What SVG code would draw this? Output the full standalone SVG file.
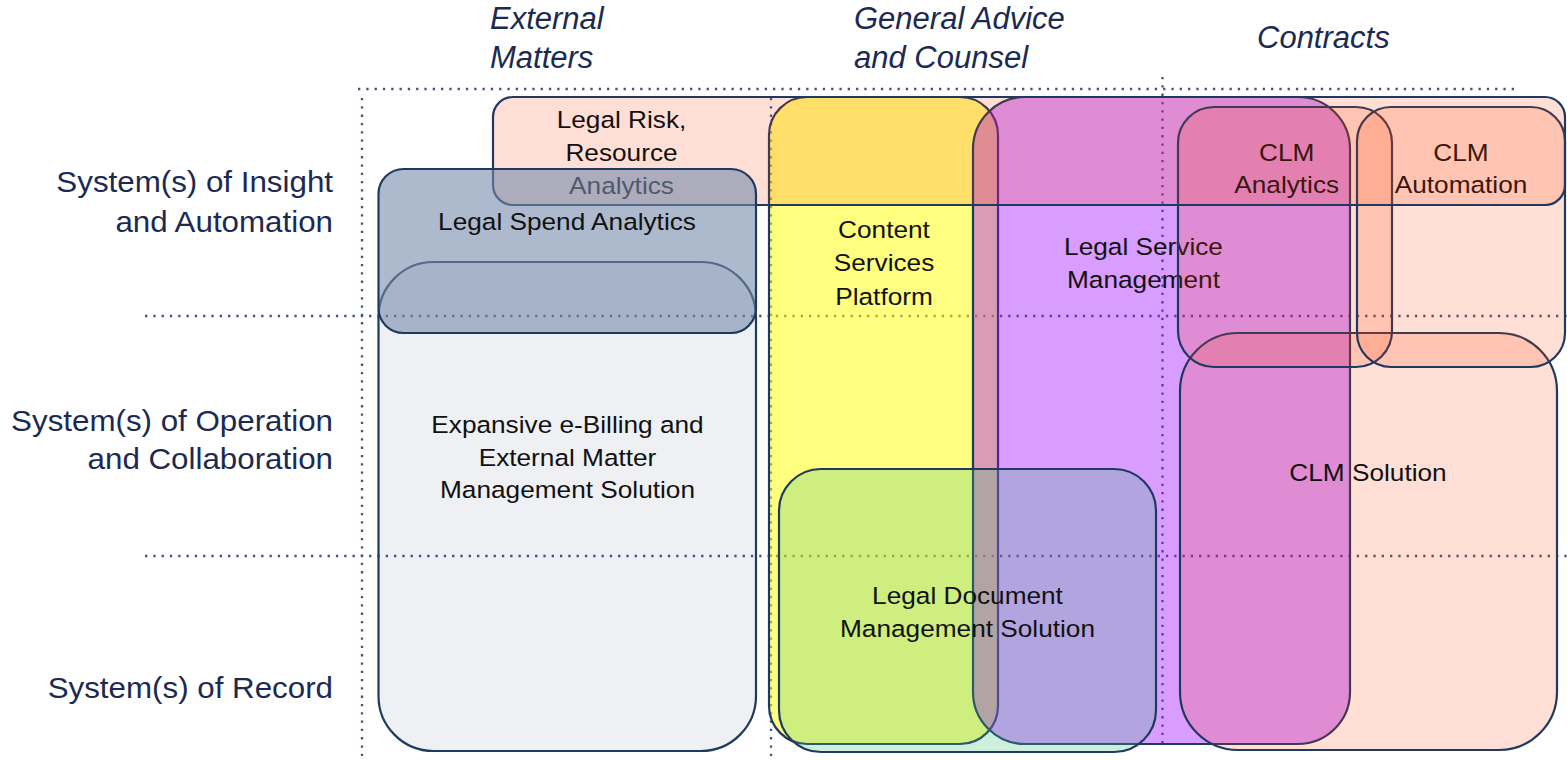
<svg xmlns="http://www.w3.org/2000/svg" width="1567" height="760" viewBox="0 0 1567 760">
<defs>
<style>
.grid{stroke:#45527c;stroke-width:2.3;stroke-dasharray:2.3 6;fill:none}
.box{stroke:#1F3A60;stroke-width:2.2}
.peach{fill:#FF3C00;fill-opacity:0.165}
.t{font-family:"Liberation Sans",Arial,sans-serif;font-size:24.5px;fill:#111;text-anchor:middle}
.row{font-family:"Liberation Sans",Arial,sans-serif;font-size:29px;fill:#1C2A52;text-anchor:end}
.col{font-family:"Liberation Sans",Arial,sans-serif;font-size:31px;font-style:italic;fill:#1C2A52}
</style>
</defs>
<rect width="1567" height="760" fill="#FFFFFF"/>
<g id="grid">
<line class="grid" x1="358" y1="89" x2="1520" y2="89"/>
<line class="grid" x1="362" y1="98" x2="362" y2="760"/>
<line class="grid" x1="771" y1="98" x2="771" y2="760"/>
<line class="grid" x1="1162.5" y1="77" x2="1162.5" y2="746"/>
<line class="grid" x1="145" y1="316" x2="1567" y2="316"/>
<line class="grid" x1="145" y1="556" x2="1567" y2="556"/>
</g>
<g id="row-labels">
<text class="row" transform="translate(333 192.3) scale(1.08 1)"><tspan x="0" y="0">System(s) of Insight</tspan><tspan x="0" y="39.4">and Automation</tspan></text>
<text class="row" transform="translate(333 431) scale(1.08 1)"><tspan x="0" y="0">System(s) of Operation</tspan><tspan x="0" y="38">and Collaboration</tspan></text>
<text class="row" transform="translate(333 697.7) scale(1.08 1)">System(s) of Record</text>
</g>
<g id="column-labels">
<text class="col"><tspan x="490" y="29.3">External</tspan><tspan x="490" y="68.3">Matters</tspan></text>
<text class="col"><tspan x="854" y="29.3">General Advice</tspan><tspan x="854" y="68.3">and Counsel</tspan></text>
<text class="col" x="1257" y="48.3">Contracts</text>
</g>
<g id="expansive-ebilling">
<rect class="box" x="378.5" y="262" width="377.5" height="489" rx="55" fill="#1F3864" fill-opacity="0.075"/>
<text class="t" transform="translate(567.5 433.3) scale(1.07 1)"><tspan x="0" y="0">Expansive e-Billing and</tspan><tspan x="0" y="32.3">External Matter</tspan><tspan x="0" y="64.7">Management Solution</tspan></text>
</g>
<g id="content-services-platform">
<rect class="box" x="769" y="97" width="229" height="647" rx="38" fill="#FFFF00" fill-opacity="0.5"/>
<text class="t" transform="translate(884 238) scale(1.07 1)"><tspan x="0" y="0">Content</tspan><tspan x="0" y="33.5">Services</tspan><tspan x="0" y="67">Platform</tspan></text>
</g>
<g id="legal-service-management">
<rect class="box" x="973" y="97" width="377" height="647" rx="52" fill="#A008FF" fill-opacity="0.4"/>
<text class="t" transform="translate(1143.5 255) scale(1.07 1)"><tspan x="0" y="0">Legal Service</tspan><tspan x="0" y="33.3">Management</tspan></text>
</g>
<g id="legal-document-management">
<rect class="box" x="779" y="469" width="377" height="283" rx="42" fill="#43BE80" fill-opacity="0.26"/>
<text class="t" transform="translate(967.5 604) scale(1.07 1)"><tspan x="0" y="0">Legal Document</tspan><tspan x="0" y="33.3">Management Solution</tspan></text>
</g>
<g id="clm-solution">
<rect class="box peach" x="1180" y="333" width="377" height="417" rx="58"/>
<text class="t" transform="translate(1368 480.7) scale(1.07 1)">CLM Solution</text>
</g>
<g id="clm-analytics">
<rect class="box peach" x="1178" y="107" width="214" height="260" rx="36"/>
<text class="t" transform="translate(1286.7 161) scale(1.07 1)"><tspan x="0" y="0">CLM</tspan><tspan x="0" y="32.3">Analytics</tspan></text>
</g>
<g id="clm-automation">
<rect class="box peach" x="1357" y="107" width="208" height="260" rx="34"/>
<text class="t" transform="translate(1461 161) scale(1.07 1)"><tspan x="0" y="0">CLM</tspan><tspan x="0" y="32.3">Automation</tspan></text>
</g>
<g id="legal-risk-resource-analytics">
<rect class="box peach" x="493" y="97" width="1072" height="108" rx="20"/>
<text class="t" transform="translate(621.5 127.5) scale(1.07 1)"><tspan x="0" y="0">Legal Risk,</tspan><tspan x="0" y="33.5">Resource</tspan><tspan x="0" y="67">Analytics</tspan></text>
</g>
<g id="legal-spend-analytics">
<rect class="box" x="378.5" y="169" width="377.5" height="164" rx="25" fill="#768AAC" fill-opacity="0.6"/>
<text class="t" transform="translate(567 230) scale(1.07 1)">Legal Spend Analytics</text>
</g>
<g id="connectors"/>
</svg>
